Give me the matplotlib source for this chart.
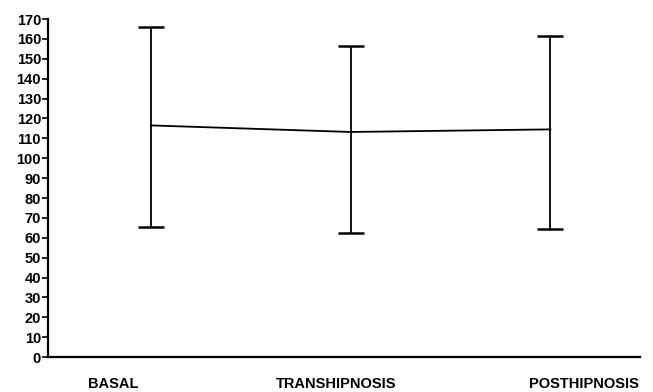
import matplotlib.pyplot as plt

# values
phases = ['BASAL', 'TRANSHIPNOSIS', 'POSTHIPNOSIS']
means  = [116.5, 113.2, 114.5]
upper  = [166, 156.5, 161.5]
lower  = [65.5, 62.5, 64.5]
yticks = list(range(0, 171, 10))

err_lo = [m - l for m, l in zip(means, lower)]
err_hi = [u - m for m, u in zip(means, upper)]
x = list(range(len(phases)))

plt.rcParams['font.family'] = ['Liberation Sans', 'DejaVu Sans']

fig = plt.figure(figsize=(6.53, 3.92), dpi=100)
ax = fig.add_axes([0.0735, 0.089, 0.907, 0.8625])

ax.errorbar(x, means, yerr=[err_lo, err_hi], color='black', lw=1.3,
            elinewidth=1.3, capsize=9.5, capthick=1.8)

ax.set_xlim(-0.515, 2.45)
ax.set_ylim(0, 170)

ax.spines['top'].set_visible(False)
ax.spines['right'].set_visible(False)
ax.spines['left'].set_linewidth(1.6)
ax.spines['bottom'].set_linewidth(1.6)

ax.set_yticks(yticks)
ax.set_yticklabels([str(v) for v in yticks], fontsize=10.5, fontweight='bold')
ax.tick_params(axis='y', direction='out', length=4, width=1.2, pad=1)

# category labels sit a little off the error bars in the original
label_pos = [-0.19, 0.925, 2.17]
ax.set_xticks(label_pos)
ax.set_xticklabels(phases, fontsize=10.5, fontweight='bold')
ax.tick_params(axis='x', length=0, pad=14)

plt.savefig('out.png', dpi=100)
